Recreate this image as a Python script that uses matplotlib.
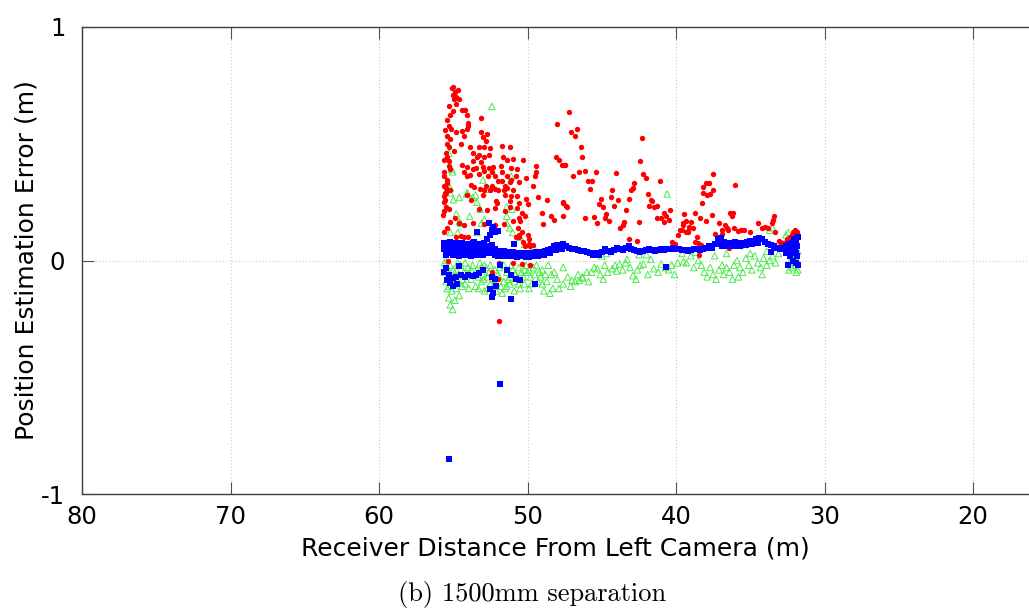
import matplotlib
matplotlib.use("Agg")
import matplotlib.pyplot as plt

# ---------------- data ----------------
red_pts = [
    (55.1,0.74),(55.0,0.745),(54.8,0.70),(54.95,0.69),(54.6,0.69),(54.8,0.67),(55.05,0.64),(55.2,0.625),
    (54.4,0.645),(54.2,0.645),(54.1,0.625),(55.3,0.575),(55.15,0.565),(54.0,0.59),(54.0,0.575),(54.1,0.565),
    (54.4,0.555),(54.8,0.55),(54.3,0.535),(55.4,0.535),(55.2,0.52),(53.15,0.61),(53.1,0.55),(52.7,0.54),
    (53.0,0.53),(52.8,0.51),(54.5,0.50),(55.45,0.50),(55.3,0.485),(54.95,0.47),(53.9,0.485),(53.3,0.485),
    (52.9,0.485),(52.5,0.48),(51.7,0.49),(51.2,0.485),(53.7,0.46),(53.4,0.445),(53.3,0.45),(52.9,0.445),
    (52.6,0.45),(55.4,0.445),(55.3,0.425),(53.7,0.425),(53.1,0.42),(51.65,0.445),(51.4,0.43),(51.0,0.435),
    (50.3,0.43),(54.4,0.41),(55.3,0.405),(55.6,0.38),(55.2,0.39),(54.1,0.40),(53.5,0.395),(53.0,0.40),
    (52.6,0.395),(52.3,0.40),(51.8,0.405),(51.1,0.395),(50.7,0.39),(51.7,0.38),(52.4,0.38),(52.9,0.385),
    (53.7,0.39),(54.3,0.38),(55.6,0.36),(55.45,0.345),(54.1,0.36),(53.9,0.365),(53.25,0.37),(52.65,0.36),
    (52.2,0.36),(52.0,0.34),(51.4,0.36),(51.1,0.345),(51.2,0.335),(50.8,0.36),(50.1,0.355),(49.5,0.36),
    (49.4,0.38),(49.4,0.405),(53.8,0.325),(53.6,0.315),(52.8,0.32),(52.4,0.32),(51.7,0.34),(51.5,0.32),
    (50.6,0.335),(49.6,0.32),(53.2,0.305),(52.9,0.30),(52.2,0.305),(51.6,0.30),(51.4,0.31),(51.0,0.30),
    (55.6,0.32),(55.5,0.29),(55.6,0.275),
    (55.55,0.29),(55.55,0.26),(55.2,0.30),(54.1,0.28),(53.8,0.26),(53.0,0.28),(52.5,0.30),(52.0,0.30),
    (51.5,0.28),(51.1,0.275),(50.7,0.275),(52.1,0.255),(52.05,0.245),(51.2,0.255),(50.6,0.245),(50.1,0.265),
    (50.0,0.24),(49.3,0.27),(48.7,0.26),(53.3,0.22),(52.7,0.215),(52.2,0.225),(51.5,0.21),(51.2,0.23),
    (50.7,0.225),(50.4,0.205),(50.2,0.19),(50.5,0.17),(50.65,0.14),(50.4,0.12),(50.6,0.10),(50.0,0.11),
    (50.3,0.08),(49.9,0.07),(49.8,0.06),(49.6,0.065),(50.2,0.06),(49.9,0.09),(49.0,0.205),(48.4,0.19),
    (55.7,0.195),(54.9,0.18),(54.6,0.16),(55.2,0.165),(54.3,0.15),(53.65,0.16),(52.9,0.155),(52.2,0.15),
    (51.6,0.155),(51.0,0.17),(50.6,0.18),(48.95,0.155),(48.2,0.175),(47.6,0.19),(47.6,0.25),(47.35,0.23),
    (54.8,0.10),(54.5,0.105),(54.3,0.10),(54.0,0.10),(50.8,0.10),(50.6,0.11),(51.9,-0.01),(51.0,-0.01),
    (50.4,-0.015),(49.8,-0.02),(52.4,-0.05),(52.0,-0.08),(51.9,-0.26),(53.1,0.035),(55.35,0.0),
    (55.6,0.25),(55.5,0.23),(55.65,0.21),(55.4,0.14),(55.6,0.12),(55.5,0.08),(55.3,0.22),(55.5,0.31),
    (55.4,0.33),(55.6,0.43),(55.5,0.46),(55.55,0.56),(55.45,0.60),(55.3,0.66),(55.0,0.71),(54.7,0.73),(54.9,0.72),
    (47.2,0.635),(48.0,0.585),(47.1,0.55),(46.7,0.565),(46.8,0.535),(48.1,0.445),(47.85,0.43),(47.7,0.41),
    (47.5,0.41),(46.55,0.38),(46.95,0.36),(46.4,0.485),(46.3,0.445),(47.45,0.41),(46.15,0.385),(45.4,0.38),
    (45.9,0.34),(45.65,0.34),(45.8,0.305),(47.6,0.245),(47.4,0.235),(46.1,0.18),(45.55,0.185),(45.3,0.16),
    (45.2,0.24),(44.95,0.23),(45.05,0.265),(44.8,0.18),(44.5,0.17),(44.7,0.20),(44.4,0.27),(44.3,0.30),
    (44.2,0.235),(43.9,0.26),(44.05,0.375),(43.4,0.215),(43.75,0.14),(43.6,0.15),(43.5,0.165),(43.2,0.09),
    (43.15,0.265),(43.05,0.30),(42.9,0.31),(42.8,0.33),(42.4,0.425),(42.3,0.525),(42.2,0.37),(42.05,0.355),
    (42.5,0.165),(42.65,0.085),(41.9,0.285),(41.7,0.26),(41.6,0.255),(41.8,0.235),(41.5,0.23),(41.3,0.235),
    (41.1,0.34),(41.3,0.18),(41.0,0.18),(40.8,0.205),(40.7,0.19),(40.4,0.215),(40.8,0.165),(40.5,0.175),
    (40.3,0.08),(40.05,0.07),(39.9,0.11),(39.7,0.13),(39.5,0.15),(39.3,0.12),(39.2,0.125),(39.35,0.17),(39.1,0.145),
    (37.5,0.37),(37.95,0.33),(37.75,0.33),(38.2,0.315),(38.2,0.29),(37.9,0.28),(37.7,0.285),(37.5,0.30),
    (36.0,0.325),(38.25,0.245),(39.45,0.20),(38.7,0.205),(38.4,0.18),(38.0,0.17),(37.6,0.195),(39.5,0.16),
    (39.0,0.165),(38.85,0.14),(39.2,0.12),(39.6,0.13),(37.1,0.16),(36.9,0.13),(36.7,0.15),(36.6,0.14),
    (36.35,0.205),(36.15,0.205),(36.25,0.19),(37.4,0.115),(36.9,0.115),(36.5,0.13),(36.1,0.14),(35.8,0.125),
    (35.6,0.13),(35.4,0.13),(35.0,0.12),(34.5,0.16),(34.2,0.14),(34.0,0.145),(33.8,0.14),(33.55,0.16),
    (33.4,0.19),(33.45,0.175),(33.35,0.12),(33.1,0.085),(33.0,0.08),(38.6,0.10),(38.7,0.08),(38.5,0.075),
    (38.3,0.065),(36.6,0.06),(36.4,0.055),(36.0,0.07),(35.6,0.06),(35.3,0.065),(32.55,0.09),(32.3,0.10),
    (32.1,0.12),(31.95,0.115),(31.9,0.09),(32.2,0.11),(32.0,0.10),(31.85,0.12),(32.4,0.095),(38.45,0.025),
    (32.0,0.13),(31.9,0.105),(32.15,0.095),(32.6,0.08),(32.8,0.075),
]
red_x = [p[0] for p in red_pts]
red_y = [p[1] for p in red_pts]

blue_band_x = [55.6,55.4,55.2,55.0,54.8,54.6,54.4,54.2,54.0,53.8,53.6,53.4,53.2,53.0,52.8,52.6,52.4,52.2,52.0,51.8,
               51.6,51.4,51.2,51.0,50.8,50.6,50.4,50.2,50.0,49.8,49.6,49.4,49.2,49.0,48.8,48.6,48.4,48.2,48.0,47.8,
               47.6,47.4,47.2,47.0,46.8,46.6,46.4,46.2,46.0,45.8,45.6,45.4,45.2,45.0,44.8,44.6,44.4,44.2,44.0,43.8,
               43.6,43.4,43.2,43.0,42.8,42.6,42.4,42.2,42.0,41.8,41.6,41.4,41.2,41.0,40.8,40.6,40.4,40.2,40.0,39.8,
               39.6,39.4,39.2,39.0,38.8,38.6,38.4,38.2,38.0,37.8,37.6,37.4,37.2,37.0,36.8,36.6,36.4,36.2,36.0,35.8,
               35.6,35.4,35.2,35.0,34.8,34.6,34.4,34.2,34.0,33.8,33.6,33.4,33.2,33.0,32.8,32.6,32.4,32.2,32.0]
blue_band_y = [0.05,0.06,0.05,0.055,0.05,0.045,0.05,0.05,0.045,0.05,0.055,0.05,0.045,0.05,0.055,0.06,0.065,0.05,0.04,0.035,
               0.04,0.035,0.03,0.035,0.03,0.025,0.03,0.03,0.025,0.03,0.03,0.035,0.03,0.035,0.04,0.045,0.05,0.06,0.065,0.065,
               0.07,0.06,0.055,0.05,0.05,0.045,0.04,0.04,0.035,0.03,0.025,0.03,0.025,0.035,0.05,0.04,0.035,0.045,0.055,0.05,
               0.045,0.055,0.06,0.05,0.045,0.04,0.035,0.04,0.045,0.05,0.045,0.04,0.045,0.05,0.045,0.05,0.05,0.055,0.05,0.05,
               0.045,0.045,0.04,0.045,0.05,0.05,0.045,0.05,0.055,0.06,0.055,0.07,0.09,0.095,0.08,0.075,0.07,0.075,0.08,0.075,
               0.07,0.075,0.08,0.085,0.08,0.09,0.095,0.09,0.08,0.07,0.065,0.06,0.055,0.05,0.055,0.06,0.07,0.075,0.08]

blue_extra = [
    (55.5,0.025),(55.3,0.075),(55.1,0.03),(54.9,0.075),(54.7,0.025),(54.5,0.07),(54.3,0.03),(54.1,0.07),
    (53.9,0.025),(53.7,0.075),(53.5,0.03),(53.3,0.07),(53.1,0.03),(52.9,0.07),(52.7,0.035),(52.5,0.04),
    (52.3,0.035),(51.9,0.02),(51.5,0.02),(51.1,0.02),(50.7,0.015),(50.3,0.02),(49.9,0.015),
    (55.6,0.075),(55.4,0.03),(55.2,0.08),(55.0,0.025),(54.8,0.075),(54.6,0.02),(54.4,0.075),(54.2,0.025),
    (54.0,0.07),(53.8,0.02),(53.6,0.075),(53.4,0.025),(53.2,0.07),(53.0,0.025),(52.8,0.03),(52.6,0.035),
    (52.4,0.03),(52.2,0.025),(52.0,0.02),(51.7,0.025),(51.3,0.02),(50.9,0.02),(50.5,0.02),(50.1,0.015),
    (49.7,0.02),(49.3,0.02),(48.9,0.025),(48.5,0.03),(48.1,0.045),(47.7,0.05),
    (37.3,0.07),(37.1,0.075),(36.9,0.06),(36.5,0.06),(36.1,0.06),(35.7,0.06),(35.3,0.065),(34.9,0.07),(34.5,0.075),
    (52.6,0.16),(52.4,0.13),(52.35,0.145),(52.3,0.14),(52.2,0.12),(52.5,0.11),(52.0,0.125),(53.4,0.12),
    (52.7,0.09),(52.9,0.075),(53.6,0.08),(50.9,0.07),
    (55.2,-0.095),(55.0,-0.11),(54.75,-0.10),(54.5,-0.06),(54.2,-0.07),(54.0,-0.06),(53.7,-0.065),(53.5,-0.06),
    (53.3,-0.055),(54.8,-0.07),(55.0,-0.075),(55.4,-0.085),(54.6,-0.025),(53.0,-0.04),(52.4,-0.07),(51.85,-0.02),
    (51.4,-0.04),(51.1,-0.06),(50.8,-0.08),(50.5,-0.085),(52.2,-0.08),(52.55,-0.12),(52.3,-0.14),(52.4,-0.155),
    (52.1,-0.11),(51.1,-0.165),(49.5,-0.10),(51.85,-0.527),(55.3,-0.852),(40.7,-0.027),(33.6,0.035),(32.45,-0.02),
    (55.5,-0.03),(55.6,-0.05),(55.3,-0.06),
    (32.3,0.02),(32.1,0.0),(31.95,0.03),(31.85,0.06),(31.9,-0.01),(32.0,0.04),(31.85,0.02),(32.2,0.05),
    (32.05,0.09),(31.9,0.08),(32.15,0.03),(31.8,0.10),(31.8,-0.02),(32.5,0.04),(32.6,0.03),
]
blue_x = blue_band_x + [p[0] for p in blue_extra]
blue_y = blue_band_y + [p[1] for p in blue_extra]

green_pts = [
    (52.4,0.66),(55.3,0.46),(55.1,0.39),(55.05,0.38),(53.0,0.345),(52.6,0.305),(54.05,0.29),(53.5,0.28),
    (51.1,0.36),(55.2,0.31),(40.6,0.285),
    (55.2,0.29),(55.0,0.26),(54.6,0.27),(54.1,0.285),(53.7,0.27),(53.4,0.25),(53.2,0.22),(54.8,0.20),
    (54.6,0.165),(54.5,0.16),(53.9,0.19),(53.1,0.16),(52.9,0.175),(55.2,0.12),(54.7,0.12),(53.4,0.12),
    (51.4,0.23),(51.05,0.22),(51.4,0.19),(51.4,0.16),(51.2,0.14),(51.0,0.12),(50.5,0.10),(50.2,0.07),(49.6,0.06),
    (55.6,-0.01),(55.4,-0.03),(55.6,-0.05),(55.3,-0.06),(55.0,-0.08),(55.5,-0.09),(55.3,-0.11),(55.1,-0.13),
    (54.8,-0.12),(54.6,-0.15),(55.3,-0.16),(54.9,-0.17),(55.2,-0.19),(55.05,-0.21),(54.8,-0.04),(54.5,-0.02),
    (54.3,-0.05),(54.0,-0.03),(53.7,-0.02),(53.4,-0.04),(53.2,-0.01),(53.0,-0.06),(52.8,-0.03),(52.6,-0.05),
    (52.3,-0.08),(52.0,-0.06),(51.8,-0.11),(51.6,-0.09),(51.4,-0.05),(51.2,-0.07),(51.0,-0.04),(50.8,-0.06),
    (50.6,-0.03),(50.4,-0.05),(50.2,-0.04),(50.0,-0.05),(49.8,-0.07),(49.6,-0.03),(49.4,-0.02),(49.2,-0.05),
    (49.0,-0.04),(48.8,-0.06),(48.6,-0.02),(49.7,-0.10),(50.2,-0.10),(49.0,-0.10),(48.3,-0.12),(48.5,-0.14),
    (48.9,-0.13),(54.2,-0.10),(53.8,-0.08),(53.5,-0.11),(53.1,-0.09),(52.7,-0.12),(52.5,-0.10),(52.1,-0.13),
    (51.7,-0.14),(51.5,-0.12),(51.2,-0.10),(50.9,-0.13),(53.9,-0.06),(54.4,-0.08),(52.9,-0.02),(51.9,-0.03),(50.5,-0.12),
    (55.5,0.0),(55.2,-0.02),(55.0,-0.04),(54.7,-0.01),(54.6,-0.06),(54.2,-0.01),(54.1,-0.06),(53.8,-0.04),
    (53.6,-0.06),(53.3,-0.07),(53.1,-0.03),(52.95,-0.08),(52.7,-0.07),(52.5,-0.02),(52.2,-0.04),(51.9,-0.07),
    (51.6,-0.02),(51.3,-0.08),(51.1,-0.02),(50.9,-0.09),(50.7,-0.07),(50.3,-0.07),(50.1,-0.02),(49.9,-0.04),
    (49.5,-0.06),(49.1,-0.07),(48.7,-0.09),(48.4,-0.06),(55.4,-0.12),(54.95,-0.10),(54.7,-0.09),(54.4,-0.11),
    (53.95,-0.12),(53.3,-0.12),(52.9,-0.13),(52.3,-0.11),(51.4,-0.11),(50.6,-0.10),(49.9,-0.12),(49.3,-0.09),
    (47.6,-0.10),(47.6,-0.03),(47.3,-0.07),(47.0,-0.085),(46.8,-0.09),(46.5,-0.085),(46.3,-0.075),(46.0,-0.05),
    (46.3,-0.07),(45.5,-0.03),(45.3,-0.035),(44.8,-0.02),(44.6,-0.05),(44.3,-0.035),(44.1,-0.02),(43.8,-0.015),
    (43.4,-0.01),(42.9,-0.065),(42.6,-0.04),(42.4,-0.02),(42.2,-0.015),(41.7,0.005),(41.5,-0.035),(41.0,-0.015),
    (40.7,-0.03),(40.3,-0.02),(39.9,-0.01),(39.5,-0.005),(42.0,0.025),(42.5,0.025),(45.0,0.02),(44.7,0.03),
    (47.9,-0.12),(47.1,-0.11),(46.6,-0.06),(45.9,-0.09),(45.7,-0.05),(45.1,-0.06),(44.9,-0.08),(44.0,-0.045),
    (43.6,-0.04),(43.1,-0.03),(42.7,-0.08),(41.9,-0.06),(41.2,-0.05),(40.5,-0.04),(40.1,-0.06),(43.3,0.005),
    (48.2,-0.05),(48.0,-0.08),
    (39.6,0.03),(39.3,-0.01),(39.0,0.02),(38.8,-0.03),(38.5,0.0),(38.3,-0.02),(38.1,-0.05),(37.9,-0.07),
    (37.7,-0.03),(37.5,-0.06),(37.3,-0.08),(37.1,-0.04),(36.9,-0.02),(36.8,-0.06),(36.6,-0.03),(36.4,-0.05),
    (36.2,-0.08),(36.1,-0.02),(35.9,0.0),(35.7,-0.03),(35.5,-0.05),(35.3,0.01),(35.1,-0.02),(34.9,-0.04),
    (34.7,0.02),(34.5,-0.01),(34.3,-0.03),(34.1,0.01),(33.9,-0.02),(33.7,0.0),(33.5,0.02),(33.3,-0.01),
    (33.1,0.03),(33.7,0.13),(33.5,0.14),(32.6,0.11),(32.45,0.12),(38.7,0.035),(37.4,0.02),(35.8,-0.07),
    (34.2,-0.06),(36.6,0.03),(35.0,0.03),(33.9,0.04),
    (32.5,0.05),(32.3,0.0),(32.2,-0.03),(32.1,0.06),(32.0,-0.02),(31.95,0.02),(31.9,-0.05),(31.85,0.0),
    (31.8,-0.04),(32.0,0.03),(31.9,0.07),(32.4,-0.04),(31.8,0.04),(32.2,0.02),
]
green_x = [p[0] for p in green_pts]
green_y = [p[1] for p in green_pts]

x_ticks = [80, 70, 60, 50, 40, 30, 20]
y_ticks = [-1, 0, 1]

# ---------------- figure ----------------
W, H = 1029, 613
fig = plt.figure(figsize=(W / 100, H / 100), dpi=100)
ax = fig.add_axes([82 / W, 1 - 494 / H, (1028 - 82) / W, (494 - 27) / H])

ax.scatter(green_x, green_y, marker='^', s=22, facecolors='none', edgecolors='#4ee84e',
           linewidths=0.7, zorder=3)
ax.scatter(red_x, red_y, marker='o', s=15, color='#ff0000', linewidths=0, zorder=4)
ax.scatter(blue_x, blue_y, marker='s', s=17, color='#0000ff', linewidths=0, zorder=5)

ax.set_xlim(80, 16.3)
ax.set_ylim(-1, 1)
ax.set_xticks(x_ticks)
ax.set_yticks(y_ticks)
ax.set_xticklabels([str(v) for v in x_ticks])
ax.set_yticklabels([str(v) for v in y_ticks])

ax.grid(True, color='#cccccc', linestyle=(0, (1, 2)), linewidth=0.8)
ax.set_axisbelow(True)

for side in ('left', 'bottom', 'top'):
    ax.spines[side].set_color('#404040')
    ax.spines[side].set_linewidth(1.0)
ax.spines['right'].set_visible(False)

ax.tick_params(axis='both', direction='in', length=8.5, width=0.8, color='#505050',
               labelsize=17.5, labelcolor='black', top=True)
ax.tick_params(axis='x', pad=8)
ax.tick_params(axis='y', pad=12)

ax.set_xlabel('Receiver Distance From Left Camera (m)', fontsize=18, labelpad=5)
ax.set_ylabel('Position Estimation Error (m)', fontsize=18, labelpad=2)

fig.text(532 / W, 1 - 594 / H, '(b) 1500mm separation', fontsize=19,
         family=['cmr10', 'DejaVu Serif'], ha='center', va='center')

fig.savefig('out.png', dpi=100)
